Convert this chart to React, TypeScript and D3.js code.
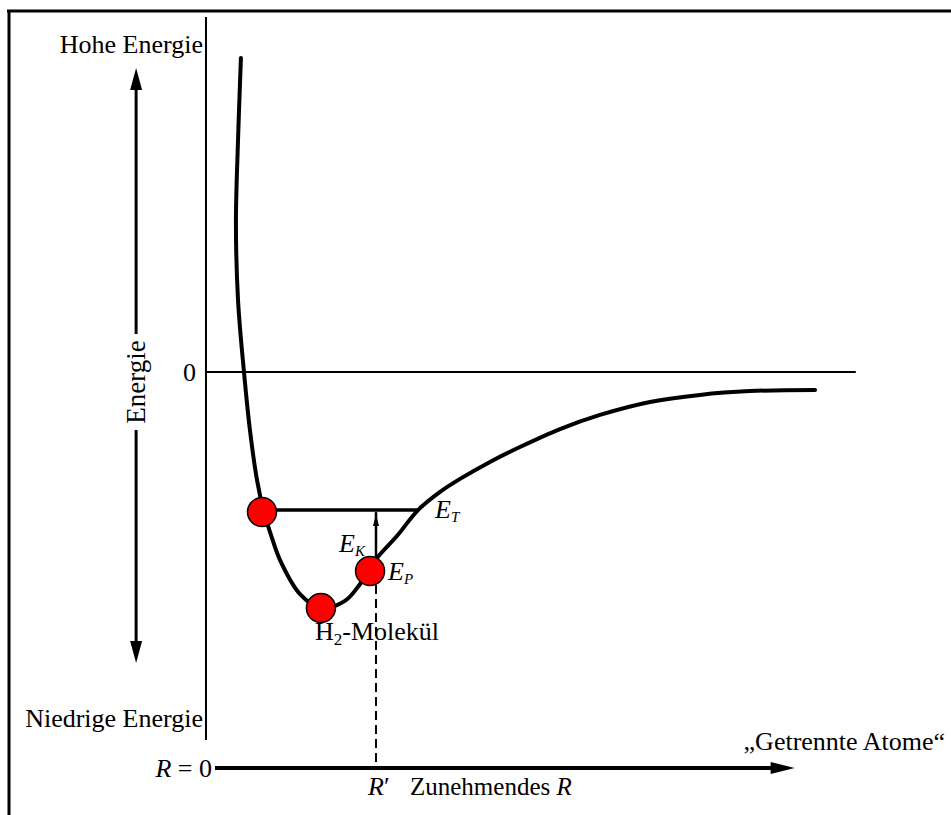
import React from "react";
import * as d3 from "d3";

// Potential energy curve of H2 (R in units of R', E in units of well depth)
const curveR = [0.161, 0.143, 0.13, 0.143, 0.18, 0.217, 0.261, 0.304, 0.348, 0.404, 0.528, 0.658, 0.807, 0.901, 1.006, 1.13, 1.261, 1.398, 1.522, 1.708, 1.894, 2.143, 2.391, 2.702, 3.012, 3.323, 3.727];
const curveE = [1.331, 0.983, 0.631, 0.305, 0, -0.246, -0.458, -0.593, -0.691, -0.797, -0.941, -1.0, -0.97, -0.898, -0.788, -0.695, -0.585, -0.508, -0.453, -0.381, -0.318, -0.242, -0.182, -0.127, -0.097, -0.081, -0.076];

// Red balls (atom positions)
const ballR = [0.292, 0.658, 0.963];
const ballE = [-0.593, -1.0, -0.843];

const rPrime = 1.0;
const totalE = -0.585;
const totalEEndR = 1.261;

const W = 951;
const H = 815;

const x = d3.scaleLinear().domain([0, 1]).range([215, 376]);
const y = d3.scaleLinear().domain([0, -1]).range([372, 608]);

const serif = "'Liberation Serif', 'Times New Roman', serif";

export default function App() {
  const pts: [number, number][] = curveR.map((r, i) => [r, curveE[i]]);
  const line = d3
    .line<[number, number]>()
    .x((d) => x(d[0]))
    .y((d) => y(d[1]))
    .curve(d3.curveCatmullRom.alpha(0.5));

  const axisY = y(-1.678);
  const vAxisX = x(-0.056);
  const arrowX = x(-0.49);
  const arrowTop = y(1.288);
  const arrowBot = y(-1.233);
  const hTip = x(3.6);

  return (
    <svg
      width={W}
      height={H}
      viewBox={`0 0 ${W} ${H}`}
      style={{ position: "absolute", left: 0, top: 0, background: "#fff" }}
      fontFamily={serif}
    >
      <rect x={0} y={0} width={W} height={H} fill="#fff" />
      {/* frame */}
      <line x1={7} y1={11} x2={W} y2={11} stroke="#000" strokeWidth={3} />
      <line x1={9} y1={10} x2={9} y2={H} stroke="#000" strokeWidth={3} />

      {/* vertical energy axis */}
      <line x1={vAxisX} y1={17} x2={vAxisX} y2={740} stroke="#000" strokeWidth={2} />
      {/* zero line */}
      <line x1={vAxisX} y1={y(0)} x2={x(3.98)} y2={y(0)} stroke="#000" strokeWidth={2} />
      <text x={196} y={y(0) + 9} fontSize={26} textAnchor="end">0</text>

      {/* left double arrow */}
      <line x1={arrowX} y1={arrowTop + 12} x2={arrowX} y2={334} stroke="#000" strokeWidth={3} />
      <line x1={arrowX} y1={430} x2={arrowX} y2={arrowBot - 12} stroke="#000" strokeWidth={3} />
      <path d={`M${arrowX},${arrowTop} L${arrowX - 6},${arrowTop + 22} L${arrowX + 6},${arrowTop + 22} Z`} fill="#000" />
      <path d={`M${arrowX},${arrowBot} L${arrowX - 6},${arrowBot - 22} L${arrowX + 6},${arrowBot - 22} Z`} fill="#000" />
      <text
        x={arrowX + 9}
        y={382}
        fontSize={27}
        textAnchor="middle"
        transform={`rotate(-90 ${arrowX + 9} 382)`}
      >
        Energie
      </text>

      <text x={203} y={53} fontSize={26} textAnchor="end">Hohe Energie</text>
      <text x={203} y={727} fontSize={26} textAnchor="end">Niedrige Energie</text>

      {/* horizontal axis */}
      <line x1={x(0)} y1={axisY} x2={hTip - 18} y2={axisY} stroke="#000" strokeWidth={4} />
      <path d={`M${hTip},${axisY} L${hTip - 24},${axisY - 6} L${hTip - 24},${axisY + 6} Z`} fill="#000" />
      <text x={212} y={axisY + 9} fontSize={26} textAnchor="end">
        <tspan fontStyle="italic">R</tspan> = 0
      </text>
      <text x={945} y={750} fontSize={26} textAnchor="end">„Getrennte Atome“</text>
      <text x={x(rPrime) - 8} y={795} fontSize={26}>
        <tspan fontStyle="italic">R</tspan>′
      </text>
      <text x={410} y={795} fontSize={25}>
        Zunehmendes <tspan fontStyle="italic">R</tspan>
      </text>

      {/* dashed line at R' */}
      <line x1={x(rPrime)} y1={y(ballE[2]) + 14} x2={x(rPrime)} y2={axisY} stroke="#000" strokeWidth={2} strokeDasharray="9 5" />

      {/* total energy line */}
      <line x1={x(ballR[0])} y1={y(totalE)} x2={x(totalEEndR)} y2={y(totalE)} stroke="#000" strokeWidth={3.5} />

      {/* kinetic energy arrow */}
      <line x1={x(rPrime)} y1={y(totalE) + 2} x2={x(rPrime)} y2={y(-0.79)} stroke="#000" strokeWidth={2.5} />
      <path d={`M${x(rPrime)},${y(totalE) + 4} L${x(rPrime) - 3},${y(totalE) + 16} L${x(rPrime) + 3},${y(totalE) + 16} Z`} fill="#000" />

      {/* potential curve */}
      <path d={line(pts) ?? ""} fill="none" stroke="#000" strokeWidth={4} strokeLinecap="round" />

      {/* balls */}
      {ballR.map((r, i) => (
        <circle key={i} cx={x(r)} cy={y(ballE[i])} r={14.5} fill="#ff0000" stroke="#000" strokeWidth={1.5} />
      ))}

      {/* labels */}
      <text x={435} y={518} fontSize={26} fontStyle="italic">
        E<tspan fontSize={15} dy={4}>T</tspan>
      </text>
      <text x={339} y={552} fontSize={26} fontStyle="italic">
        E<tspan fontSize={15} dy={4}>K</tspan>
      </text>
      <text x={388} y={580} fontSize={26} fontStyle="italic">
        E<tspan fontSize={15} dy={4}>P</tspan>
      </text>
      <text x={315} y={640} fontSize={26}>
        H<tspan fontSize={17} dy={5}>2</tspan><tspan dy={-5}>-Molekül</tspan>
      </text>
    </svg>
  );
}
